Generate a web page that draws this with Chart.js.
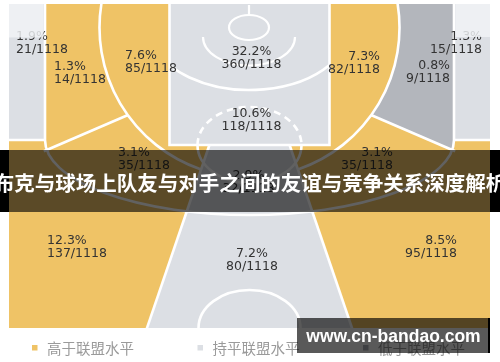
<!DOCTYPE html>
<html><head><meta charset="utf-8">
<script src="https://cdn.jsdelivr.net/npm/chart.js@4.4.1/dist/chart.umd.min.js"></script>
<style>html,body{margin:0;padding:0;background:#fff;overflow:hidden}canvas{display:block}</style>
</head><body>
<canvas id="c" width="500" height="362"></canvas>
<script>
// ---------- data ----------
const zoneNames = ['左侧底角三分','左侧底线中投','左侧近距中投','禁区','油漆区','右侧近距中投','右侧底线中投','右侧底角三分','左侧45°中投','正面中投','右侧45°中投','左侧45°三分','正面三分','右侧45°三分'];
const zonePct  = [1.9, 1.3, 7.6, 32.2, 10.6, 7.3, 0.8, 1.3, 3.1, 2.9, 3.1, 12.3, 7.2, 8.5];
const zoneMade = [21, 14, 85, 360, 118, 82, 9, 15, 35, 32, 35, 137, 80, 95];
const totalShots = 1118;
// 0 = above league, 1 = at league, 2 = below league
const zoneLevel = [1, 0, 0, 1, 1, 0, 2, 1, 0, 1, 0, 0, 1, 0];
const levelNames = ['高于联盟水平', '持平联盟水平', '低于联盟水平'];
const titleText = '布克与球场上队友与对手之间的友谊与竞争关系深度解析';
const watermarkText = 'www.cn-bandao.com';

// ---------- style ----------
const levelColors = ['#EFC366', '#DCDFE4', '#B3B6BC'];

// ---------- court template (court units) ----------
const court = {
  xMin: -240.5, xMax: 240.5, yMin: 0, yMax: 324,
  hoop: { x: 0, y: 23.5 },
  paint: { half: 80, bottom: 141 },
  ra: { rx: 100, ry: 62.5 },
  raDecor: { cx: -0.5, cy: 33, rx: 46, ry: 28.5 },
  ring: { cx: -0.5, cy: 23.5, rx: 20, ry: 12.5 },
  mid: { r: 150 },
  three: { side: 204.5, cy: 136, ry: 75 },
  ft: { cy: 141, rx: 52, ry: 38 },
  div: { jx: 121.5, jy: 111, kx: 202.7, ky: 146 },
  ray: { x: 102.5, y: 324 },
  center: { cy: 324, rx: 51, ry: 38 }
};
// label anchors (first line centre) in court units
const labelAnchors = [
  { x: -233.5, y: 33, a: 'left' },  { x: -195.5, y: 62.5, a: 'left' }, { x: -124.5, y: 52, a: 'left' },
  { x: 2, y: 48, a: 'center' },     { x: 2, y: 110, a: 'center' },     { x: 130.5, y: 53, a: 'right' },
  { x: 200.5, y: 62, a: 'right' },  { x: 232.5, y: 32.5, a: 'right' }, { x: -131.5, y: 149, a: 'left' },
  { x: -1, y: 172, a: 'center' },   { x: 143.5, y: 149, a: 'right' },  { x: -202.5, y: 237, a: 'left' },
  { x: 2.5, y: 250, a: 'center' },  { x: 207.5, y: 237, a: 'right' }
];

const courtPlugin = {
  id: 'court',
  beforeDraw(chart) {
    const ctx = chart.ctx;
    ctx.save(); ctx.fillStyle = '#fff'; ctx.fillRect(0, 0, chart.width, chart.height); ctx.restore();
  },
  beforeDatasetsDraw(chart) {
    const { ctx, scales: { x: xs, y: ys } } = chart;
    const X = v => xs.getPixelForValue(v), Y = v => ys.getPixelForValue(v);
    const kx = Math.abs(X(1) - X(0)), ky = Math.abs(Y(1) - Y(0));
    const c = court, hx = c.hoop.x, hy = c.hoop.y, B = 60;
    const poly = pts => { ctx.moveTo(X(pts[0][0]), Y(pts[0][1])); for (let i = 1; i < pts.length; i++) ctx.lineTo(X(pts[i][0]), Y(pts[i][1])); ctx.closePath(); };
    const ell = (cx, cy, rx, ry, a0, a1, ccw) => ctx.ellipse(X(cx), Y(cy), rx * kx, ry * ky, 0, a0, a1, !!ccw);
    const rect = (x0, y0, x1, y1) => poly([[x0, y0], [x1, y0], [x1, y1], [x0, y1]]);
    const rayPt = (s, y) => { const dx = s * c.ray.x - hx, dy = c.ray.y - hy; return [hx + dx * (y - hy) / dy, y]; };
    const yFar = c.yMax + B, xL = c.xMin - B, xR = c.xMax + B, yTop = c.yMin - B;
    const H = [hx, hy];
    const S = {
      leftW: () => poly([[hx, yTop], H, rayPt(-1, yFar), [xL, yFar], [xL, yTop]]),
      centerW: () => poly([H, rayPt(-1, yFar), rayPt(1, yFar)]),
      rightW: () => poly([[hx, yTop], H, rayPt(1, yFar), [xR, yFar], [xR, yTop]]),
      cornerL: () => rect(xL, yTop, -c.three.side, c.three.cy),
      cornerR: () => rect(c.three.side, yTop, xR, c.three.cy),
      inside3: () => {
        ctx.moveTo(X(-c.three.side), Y(yTop)); ctx.lineTo(X(-c.three.side), Y(c.three.cy));
        ell(0, c.three.cy, c.three.side, c.three.ry, Math.PI, 0, true);
        ctx.lineTo(X(c.three.side), Y(yTop)); ctx.closePath();
      },
      aboveDiv: s => {
        const d = c.div, f = x => d.jy + (Math.abs(x) - d.jx) * (d.ky - d.jy) / (d.kx - d.jx);
        const xe = s < 0 ? xL : xR;
        poly([[xe, yTop], [0, yTop], [0, f(0)], [xe, f(xe)]]);
      },
      c16: () => ell(hx, hy, c.mid.r, c.mid.r, 0, Math.PI * 2),
      paint: () => rect(-c.paint.half, yTop, c.paint.half, c.paint.bottom),
      ra: () => ell(hx, hy, c.ra.rx, c.ra.ry, 0, Math.PI * 2),
      outRa: () => { rect(xL, yTop, xR, yFar); ell(hx, hy, c.ra.rx, c.ra.ry, 0, Math.PI * 2); }
    };
    const fillZone = (i, shapes, rule) => {
      ctx.save();
      shapes.forEach((s, k) => { ctx.beginPath(); s(); ctx.clip(rule && rule[k] ? rule[k] : 'nonzero'); });
      ctx.fillStyle = levelColors[zoneLevel[i]];
      ctx.fillRect(0, 0, chart.width, chart.height);
      ctx.restore();
    };
    ctx.save();
    ctx.beginPath(); rect(c.xMin, c.yMin, c.xMax, c.yMax); ctx.clip();
    fillZone(11, [S.leftW]); fillZone(12, [S.centerW]); fillZone(13, [S.rightW]);
    fillZone(0, [S.cornerL]); fillZone(7, [S.cornerR]);
    fillZone(8, [S.inside3, S.leftW]); fillZone(9, [S.inside3, S.centerW]); fillZone(10, [S.inside3, S.rightW]);
    fillZone(1, [S.inside3, () => S.aboveDiv(-1)]); fillZone(6, [S.inside3, () => S.aboveDiv(1)]);
    fillZone(2, [S.c16, S.leftW]); fillZone(5, [S.c16, S.rightW]);
    fillZone(3, [S.paint, S.ra]); fillZone(4, [S.paint, S.outRa], [null, 'evenodd']);

    // white court lines
    ctx.strokeStyle = '#ffffff'; ctx.lineWidth = 2.6; ctx.lineCap = 'butt';
    const seg = (a, b) => { ctx.beginPath(); ctx.moveTo(X(a[0]), Y(a[1])); ctx.lineTo(X(b[0]), Y(b[1])); ctx.stroke(); };
    ctx.beginPath();
    ctx.moveTo(X(-c.three.side), Y(yTop)); ctx.lineTo(X(-c.three.side), Y(c.three.cy));
    ell(0, c.three.cy, c.three.side, c.three.ry, Math.PI, 0, true);
    ctx.lineTo(X(c.three.side), Y(yTop)); ctx.stroke();
    seg([xL, c.three.cy], [-c.three.side, c.three.cy]); seg([c.three.side, c.three.cy], [xR, c.three.cy]);
    ctx.beginPath(); ctx.moveTo(X(-c.paint.half), Y(yTop)); ctx.lineTo(X(-c.paint.half), Y(c.paint.bottom));
    ctx.lineTo(X(c.paint.half), Y(c.paint.bottom)); ctx.lineTo(X(c.paint.half), Y(yTop)); ctx.stroke();
    const aE = Math.acos(c.paint.half / c.ra.rx);
    ctx.beginPath(); ell(hx, hy, c.ra.rx, c.ra.ry, aE, Math.PI - aE); ctx.stroke();
    const aTop = Math.asin((c.yMin - 3 - hy) / c.mid.r);
    const aRay = Math.atan2(c.ray.y - hy, c.ray.x - hx);
    ctx.beginPath(); ell(hx, hy, c.mid.r, c.mid.r, aTop, aRay); ctx.stroke();
    ctx.beginPath(); ell(hx, hy, c.mid.r, c.mid.r, Math.PI - aRay, Math.PI - aTop); ctx.stroke();
    const d = c.div;
    seg([-d.jx, d.jy], [-d.kx - 3, d.ky + 1.3]); seg([d.jx, d.jy], [d.kx + 3, d.ky + 1.3]);
    seg(rayPt(-1, c.paint.bottom), rayPt(-1, yFar)); seg(rayPt(1, c.paint.bottom), rayPt(1, yFar));
    ctx.beginPath(); ell(0, c.ft.cy, c.ft.rx, c.ft.ry, 0, Math.PI); ctx.stroke();
    ctx.save(); ctx.setLineDash([7, 5]);
    ctx.beginPath(); ell(0, c.ft.cy, c.ft.rx, c.ft.ry, Math.PI, Math.PI * 2); ctx.stroke(); ctx.restore();
    ctx.lineWidth = 2.2;
    ctx.beginPath(); ell(c.raDecor.cx, c.raDecor.cy, c.raDecor.rx, c.raDecor.ry, 0, Math.PI); ctx.stroke();
    ctx.beginPath(); ell(c.ring.cx, c.ring.cy, c.ring.rx, c.ring.ry, 0, Math.PI * 2); ctx.stroke();
    seg([c.ring.cx, c.yMin + 1], [c.ring.cx, c.ring.cy - c.ring.ry]);
    ctx.lineWidth = 2.6;
    ctx.beginPath(); ell(0, c.center.cy, c.center.rx, c.center.ry, Math.PI, Math.PI * 2); ctx.stroke();
    ctx.restore();
  },
  afterDatasetsDraw(chart) {
    const ctx = chart.ctx, meta = chart.getDatasetMeta(0);
    ctx.save();
    ctx.fillStyle = '#333333';
    ctx.font = '12.5px "DejaVu Sans", sans-serif';
    ctx.textBaseline = 'middle';
    meta.data.forEach((el, i) => {
      ctx.textAlign = labelAnchors[i].a;
      ctx.fillText(zonePct[i].toFixed(1) + '%', el.x, el.y);
      ctx.fillText(zoneMade[i] + '/' + totalShots, el.x, el.y + 12.8);
    });
    ctx.restore();
  },
  afterDraw(chart) {
    const { ctx, scales: { x: xs, y: ys } } = chart;
    const X = v => xs.getPixelForValue(v), Y = v => ys.getPixelForValue(v);
    const c = court;
    ctx.save();
    // faded top of the corner zones
    ctx.fillStyle = 'rgba(242,244,247,0.82)';
    ctx.fillRect(X(c.xMin), Y(c.yMin), X(-c.three.side) - X(c.xMin) - 1.5, Y(33.5) - Y(c.yMin));
    ctx.fillRect(X(c.three.side) + 1.5, Y(c.yMin), X(c.xMax) - X(c.three.side) - 1.5, Y(33) - Y(c.yMin));
    // title band
    const bt = 150, bh = 62;
    ctx.fillStyle = 'rgba(0,0,0,0.62)';
    ctx.fillRect(X(c.xMin), bt, X(c.xMax) - X(c.xMin), bh);
    ctx.fillStyle = '#000';
    ctx.fillRect(0, bt, X(c.xMin), bh);
    ctx.fillRect(X(c.xMax), bt, chart.width - X(c.xMax), bh);
    ctx.fillStyle = '#fff';
    ctx.font = 'bold 20.5px "Noto Sans CJK SC", sans-serif';
    ctx.textAlign = 'center'; ctx.textBaseline = 'middle';
    ctx.fillText(titleText, 250, 183);
    // legend
    ctx.font = '14.5px "Noto Sans CJK SC", sans-serif';
    ctx.textAlign = 'left';
    levelNames.forEach((n, i) => {
      const x0 = 32 + i * 165.5;
      ctx.fillStyle = levelColors[i];
      ctx.fillRect(x0, 345, 5.5, 5.5);
      ctx.fillStyle = '#9a9a9a';
      ctx.fillText(n, x0 + 15, 348.5);
    });
    // watermark
    ctx.fillStyle = 'rgba(0,0,0,0.65)';
    ctx.fillRect(297, 318, 193, 35);
    ctx.fillStyle = '#000';
    ctx.fillRect(488, 318, 2, 35);
    ctx.fillStyle = '#fff';
    ctx.font = 'bold 17.5px "Liberation Sans", Arial, sans-serif';
    ctx.textAlign = 'center';
    ctx.fillText(watermarkText, 393.5, 337);
    ctx.restore();
  }
};

new Chart(document.getElementById('c').getContext('2d'), {
  type: 'scatter',
  data: { datasets: [{ label: '投篮分布', data: labelAnchors.map(a => ({ x: a.x, y: a.y })), pointRadius: 0, pointHoverRadius: 0 }] },
  options: {
    responsive: false, animation: false, events: [],
    layout: { padding: { left: 9, right: 10, top: 4, bottom: 34 } },
    plugins: { legend: { display: false }, tooltip: { enabled: false } },
    scales: {
      x: { type: 'linear', min: court.xMin, max: court.xMax, display: false },
      y: { type: 'linear', min: court.yMin, max: court.yMax, reverse: true, display: false }
    }
  },
  plugins: [courtPlugin]
});
</script>
</body></html>
